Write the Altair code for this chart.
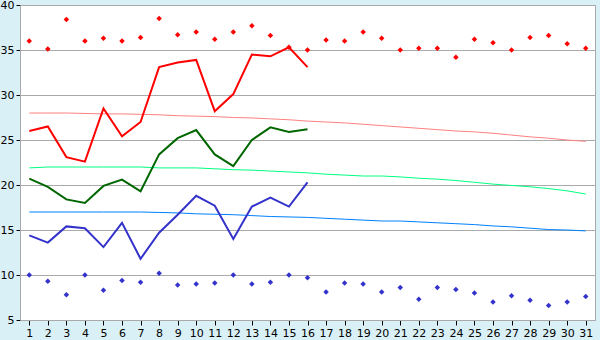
import altair as alt
import pandas as pd

days = list(range(1, 32))

max_actual = [26.0, 26.5, 23.1, 22.6, 28.5, 25.4, 27.0, 33.1, 33.6, 33.9, 28.2, 30.1, 34.5, 34.3, 35.3, 33.1]
mean_actual = [20.7, 19.8, 18.4, 18.0, 19.9, 20.6, 19.3, 23.4, 25.2, 26.1, 23.4, 22.1, 25.0, 26.4, 25.9, 26.2]
min_actual = [14.4, 13.6, 15.4, 15.2, 13.1, 15.8, 11.8, 14.7, 16.7, 18.8, 17.7, 14.0, 17.6, 18.6, 17.6, 20.3]

max_record = [36.0, 35.1, 38.4, 36.0, 36.3, 36.0, 36.4, 38.5, 36.7, 37.0, 36.2, 37.0, 37.7, 36.6, 35.3, 35.0,
              36.1, 36.0, 37.0, 36.3, 35.0, 35.2, 35.2, 34.2, 36.2, 35.8, 35.0, 36.4, 36.6, 35.7, 35.2]
min_record = [10.0, 9.3, 7.8, 10.0, 8.3, 9.4, 9.2, 10.2, 8.9, 9.0, 9.1, 10.0, 9.0, 9.2, 10.0, 9.7,
              8.1, 9.1, 9.0, 8.1, 8.6, 7.3, 8.6, 8.4, 8.0, 7.0, 7.7, 7.2, 6.6, 7.0, 7.6]

max_normal = [28.0, 28.0, 28.0, 27.95, 27.9, 27.9, 27.85, 27.8, 27.7, 27.65, 27.6, 27.5, 27.45, 27.35, 27.25, 27.1,
              27.0, 26.9, 26.75, 26.6, 26.45, 26.3, 26.15, 26.0, 25.9, 25.75, 25.55, 25.35, 25.2, 25.0, 24.85]
mean_normal = [21.9, 22.0, 22.0, 22.0, 22.0, 22.0, 22.0, 21.9, 21.9, 21.9, 21.8, 21.7, 21.65, 21.55, 21.45, 21.35,
               21.2, 21.1, 21.0, 21.0, 20.9, 20.75, 20.65, 20.5, 20.3, 20.1, 19.95, 19.8, 19.6, 19.35, 19.0]
min_normal = [17.0, 17.0, 17.0, 17.0, 17.0, 17.0, 17.0, 16.95, 16.9, 16.8, 16.75, 16.7, 16.6, 16.5, 16.45, 16.4,
              16.3, 16.2, 16.1, 16.0, 16.0, 15.9, 15.8, 15.7, 15.6, 15.45, 15.35, 15.2, 15.05, 15.0, 14.9]

y_ticks = [5, 10, 15, 20, 25, 30, 35, 40]

def frame(vals):
    return pd.DataFrame({"day": days[:len(vals)], "v": vals})

xs = alt.Scale(domain=[0.5, 31.5], nice=False, zero=False)
ys = alt.Scale(domain=[5, 40], nice=False, zero=False)

X = alt.X("day:Q", scale=xs, axis=alt.Axis(values=days, title=None, grid=False, tickSize=5,
                                           domainColor="#aaaaaa", tickColor="#000000",
                                           labelFont="DejaVu Sans", labelFontSize=11,
                                           labelColor="#000000", labelPadding=2, labelFlush=False))
Y = alt.Y("v:Q", scale=ys, axis=alt.Axis(values=y_ticks, title=None, grid=True, gridColor="#aaaaaa",
                                         gridWidth=1, tickSize=4, domainColor="#aaaaaa",
                                         tickColor="#000000", labelFont="DejaVu Sans",
                                         labelFontSize=11, labelColor="#000000", labelPadding=2))

def line(vals, color, width):
    return alt.Chart(frame(vals)).mark_line(color=color, strokeWidth=width).encode(x=X, y=Y)

def pts(vals, color):
    return alt.Chart(frame(vals)).mark_point(shape="diamond", filled=True, color=color, size=30,
                                             opacity=1).encode(x=X, y=Y)

chart = alt.layer(
    line(max_normal, "#ff8080", 1),
    line(mean_normal, "#00ff80", 1),
    line(min_normal, "#0080ff", 1),
    line(max_actual, "#ff0000", 2),
    line(mean_actual, "#006600", 2),
    line(min_actual, "#3333cc", 2),
    pts(max_record, "#ff0000"),
    pts(min_record, "#3333cc"),
).properties(
    width=575, height=315,
    autosize=alt.AutoSizeParams(type="none"),
    padding={"left": 20, "top": 5, "right": 5, "bottom": 20},
    background="#daf0f7",
).configure_view(stroke="#aaaaaa", fill="#ffffff")

chart.save("out.html", embed_options={"renderer": "svg", "actions": False})
